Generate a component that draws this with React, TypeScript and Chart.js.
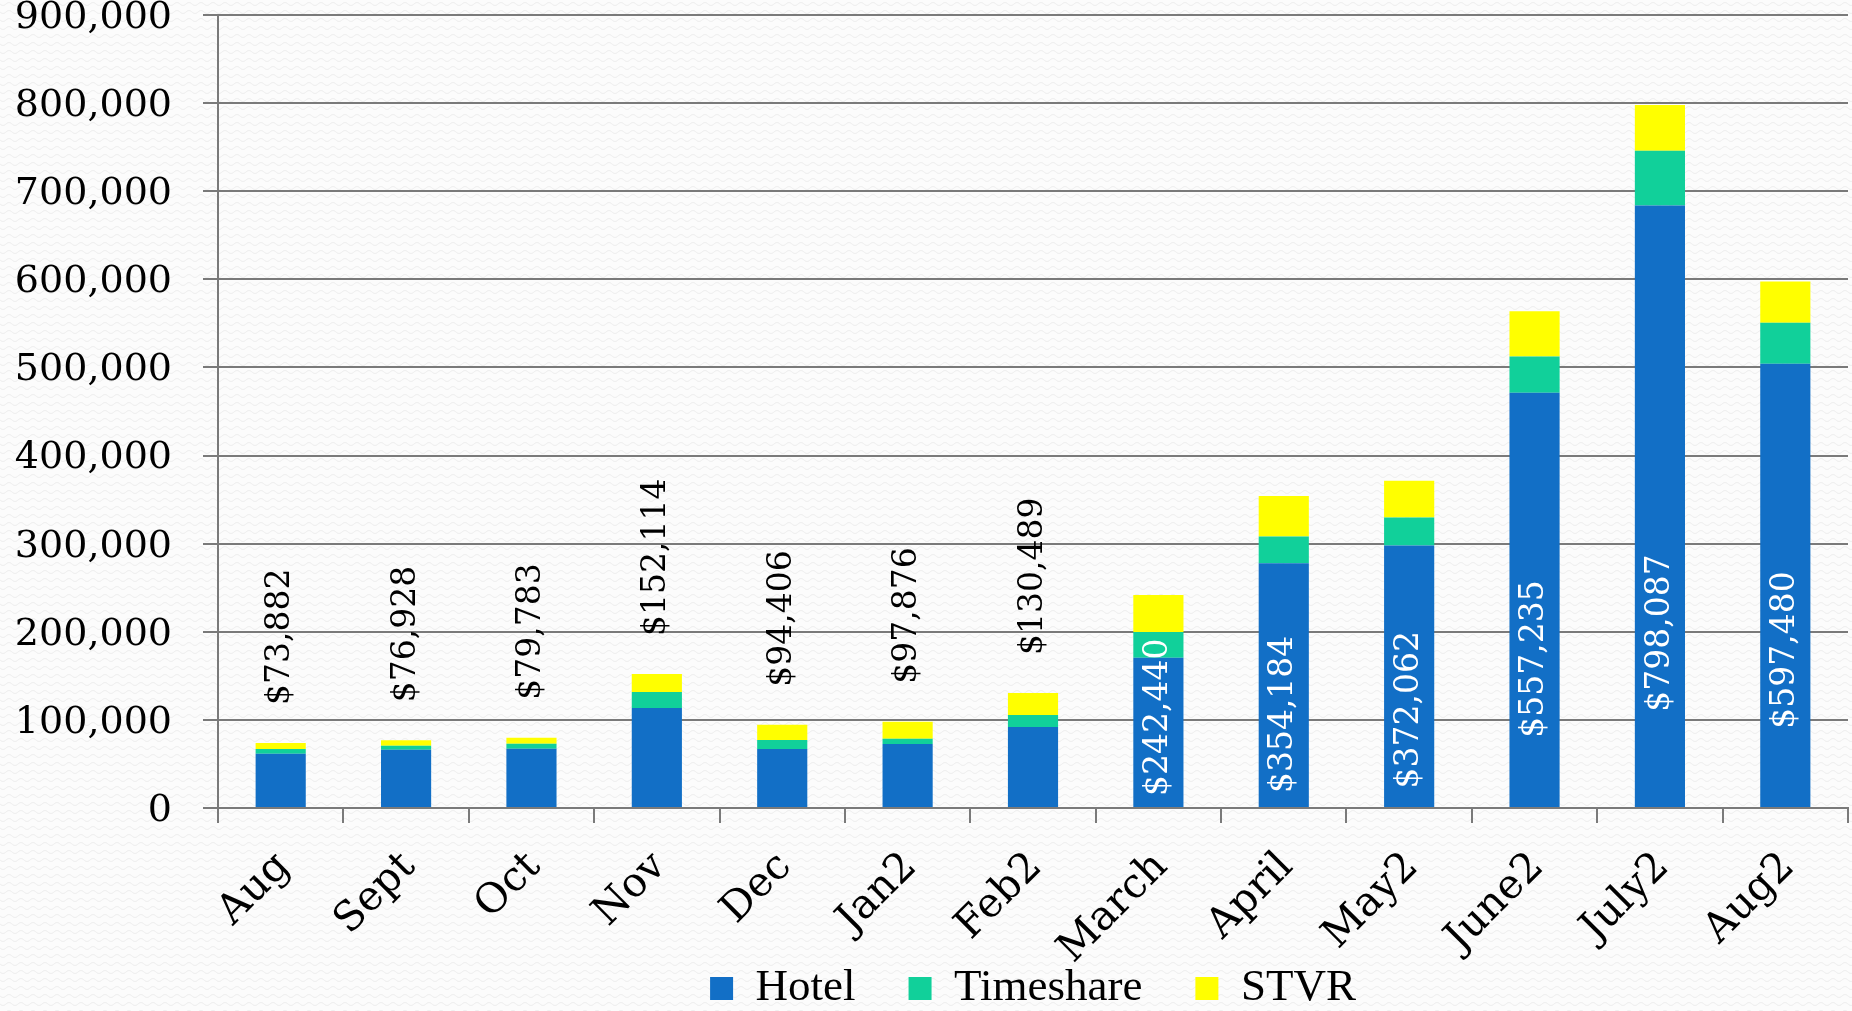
import React, { useEffect, useRef } from "react";
import { Chart, registerables } from "chart.js";

Chart.register(...registerables);

const categories = ["Aug", "Sept", "Oct", "Nov", "Dec", "Jan2", "Feb2", "March", "April", "May2", "June2", "July2", "Aug2"];
const hotel = [61600, 66200, 67300, 113500, 67000, 72600, 91900, 170600, 277800, 297800, 471400, 683800, 504100];
const timeshare = [5400, 4500, 5700, 18200, 10200, 6100, 13700, 29200, 30200, 31800, 40900, 62100, 46500];
const stvr = [6900, 6200, 6800, 20400, 17200, 19200, 24900, 42000, 46200, 41700, 51500, 52000, 46900];
const totals = [73882, 76928, 79783, 152114, 94406, 97876, 130489, 242440, 354184, 372062, 557235, 798087, 597480];
const yMax = 900000;
const yStep = 100000;

const SERIF = "'DejaVu Serif', serif";

function makePattern(): CanvasPattern | string {
  const c = document.createElement("canvas");
  c.width = 12;
  c.height = 8;
  const g = c.getContext("2d");
  if (!g) return "#fafafa";
  g.fillStyle = "#fcfcfc";
  g.fillRect(0, 0, 12, 8);
  g.strokeStyle = "#ececec";
  g.lineWidth = 1;
  g.beginPath();
  for (let x = 0; x <= 12; x += 0.5) {
    const y = 4 + 1.5 * Math.sin((x / 12) * Math.PI * 2);
    if (x === 0) g.moveTo(x, y);
    else g.lineTo(x, y);
  }
  g.stroke();
  const p = g.createPattern(c, "repeat");
  return p || "#fafafa";
}

const backgroundPlugin = {
  id: "bgPattern",
  beforeDraw(chart: any) {
    const ctx = chart.ctx;
    ctx.save();
    ctx.fillStyle = makePattern();
    ctx.fillRect(0, 0, chart.width, chart.height);
    ctx.restore();
  },
};

// let the rotated category labels extend below the (compact) x-axis box without clipping
const unclipXLabels = {
  id: "unclipXLabels",
  afterLayout(chart: any) {
    const xs = chart.scales.x;
    if (xs) xs.bottom = chart.height;
  },
};

const totalsPlugin = {
  id: "totalsLabels",
  afterDatasetsDraw(chart: any) {
    const ctx = chart.ctx;
    const yScale = chart.scales.y;
    const meta = chart.getDatasetMeta(2);
    const base = yScale.getPixelForValue(0);
    ctx.save();
    ctx.font = `33px ${SERIF}`;
    ctx.textBaseline = "middle";
    ctx.textAlign = "left";
    totals.forEach((t, i) => {
      const el = meta.data[i];
      if (!el) return;
      const x = el.x;
      const barTop = yScale.getPixelForValue(hotel[i] + timeshare[i] + stvr[i]);
      const text = "$" + t.toLocaleString("en-US");
      const w = ctx.measureText(text).width;
      let startY: number;
      if (t > 200000) {
        ctx.fillStyle = "#ffffff";
        const h = base - barTop;
        const c = Math.max(Math.min(0.3 * h, 175), 12 + w / 2);
        startY = base - c + w / 2;
      } else {
        ctx.fillStyle = "#000000";
        startY = barTop - 38;
      }
      ctx.save();
      ctx.translate(x, startY);
      ctx.rotate(-Math.PI / 2);
      ctx.fillText(text, 0, 0);
      ctx.restore();
    });
    ctx.restore();
  },
};

export default function App() {
  const ref = useRef<HTMLCanvasElement | null>(null);

  useEffect(() => {
    document.body.style.margin = "0";
    document.body.style.background = "#fcfcfc";
    const canvas = ref.current;
    if (!canvas) return;
    const chart = new Chart(canvas, {
      type: "bar",
      data: {
        labels: categories,
        datasets: [
          { label: "Hotel", data: hotel, backgroundColor: "#126fc6", borderWidth: 0 },
          { label: "Timeshare", data: timeshare, backgroundColor: "#11d09a", borderWidth: 0 },
          { label: "STVR", data: stvr, backgroundColor: "#ffff00", borderWidth: 0 },
        ],
      },
      options: {
        responsive: false,
        animation: false,
        devicePixelRatio: 1,
        events: [],
        layout: { padding: { left: 0, right: 0, top: 0, bottom: -10 } },
        datasets: { bar: { barPercentage: 0.4, categoryPercentage: 1 } },
        plugins: {
          tooltip: { enabled: false },
          legend: {
            position: "bottom",
            fullSize: false,
            labels: {
              font: { family: "'Liberation Serif', serif", size: 45 },
              color: "#000000",
              boxWidth: 23,
              boxHeight: 23,
              padding: 53,
            },
          },
        },
        scales: {
          x: {
            stacked: true,
            grid: {
              display: true,
              drawOnChartArea: false,
              drawTicks: true,
              tickLength: 15,
              color: "#7a7a7a",
              lineWidth: 2,
            },
            border: { display: true, color: "#7a7a7a", width: 2 },
            ticks: {
              autoSkip: false,
              maxRotation: 45,
              minRotation: 45,
              padding: 20,
              labelOffset: 3,
              color: "#000000",
              font: { family: SERIF, size: 41, lineHeight: 1.2 },
            },
            afterFit(scale: any) {
              scale.height = 105;
              scale.paddingRight = 4;
              scale.paddingLeft = 0;
            },
          },
          y: {
            stacked: true,
            min: 0,
            max: yMax,
            grid: {
              color: "#7a7a7a",
              lineWidth: 2,
              tickLength: 15,
              drawTicks: true,
            },
            border: { display: true, color: "#7a7a7a", width: 2 },
            ticks: {
              stepSize: yStep,
              padding: 31,
              labelOffset: 3,
              color: "#000000",
              font: { family: SERIF, size: 38, lineHeight: 0.8 },
              callback: (v: any) => Number(v).toLocaleString("en-US"),
            },
            afterFit(scale: any) {
              scale.width = 218;
              scale.paddingTop = 15;
              scale.paddingBottom = 0;
            },
          },
        },
      },
      plugins: [backgroundPlugin, unclipXLabels, totalsPlugin],
    });
    return () => chart.destroy();
  }, []);

  return (
    <div style={{ width: 1852, height: 1011 }}>
      <canvas ref={ref} width={1852} height={1011} style={{ display: "block", width: 1852, height: 1011 }} />
    </div>
  );
}
